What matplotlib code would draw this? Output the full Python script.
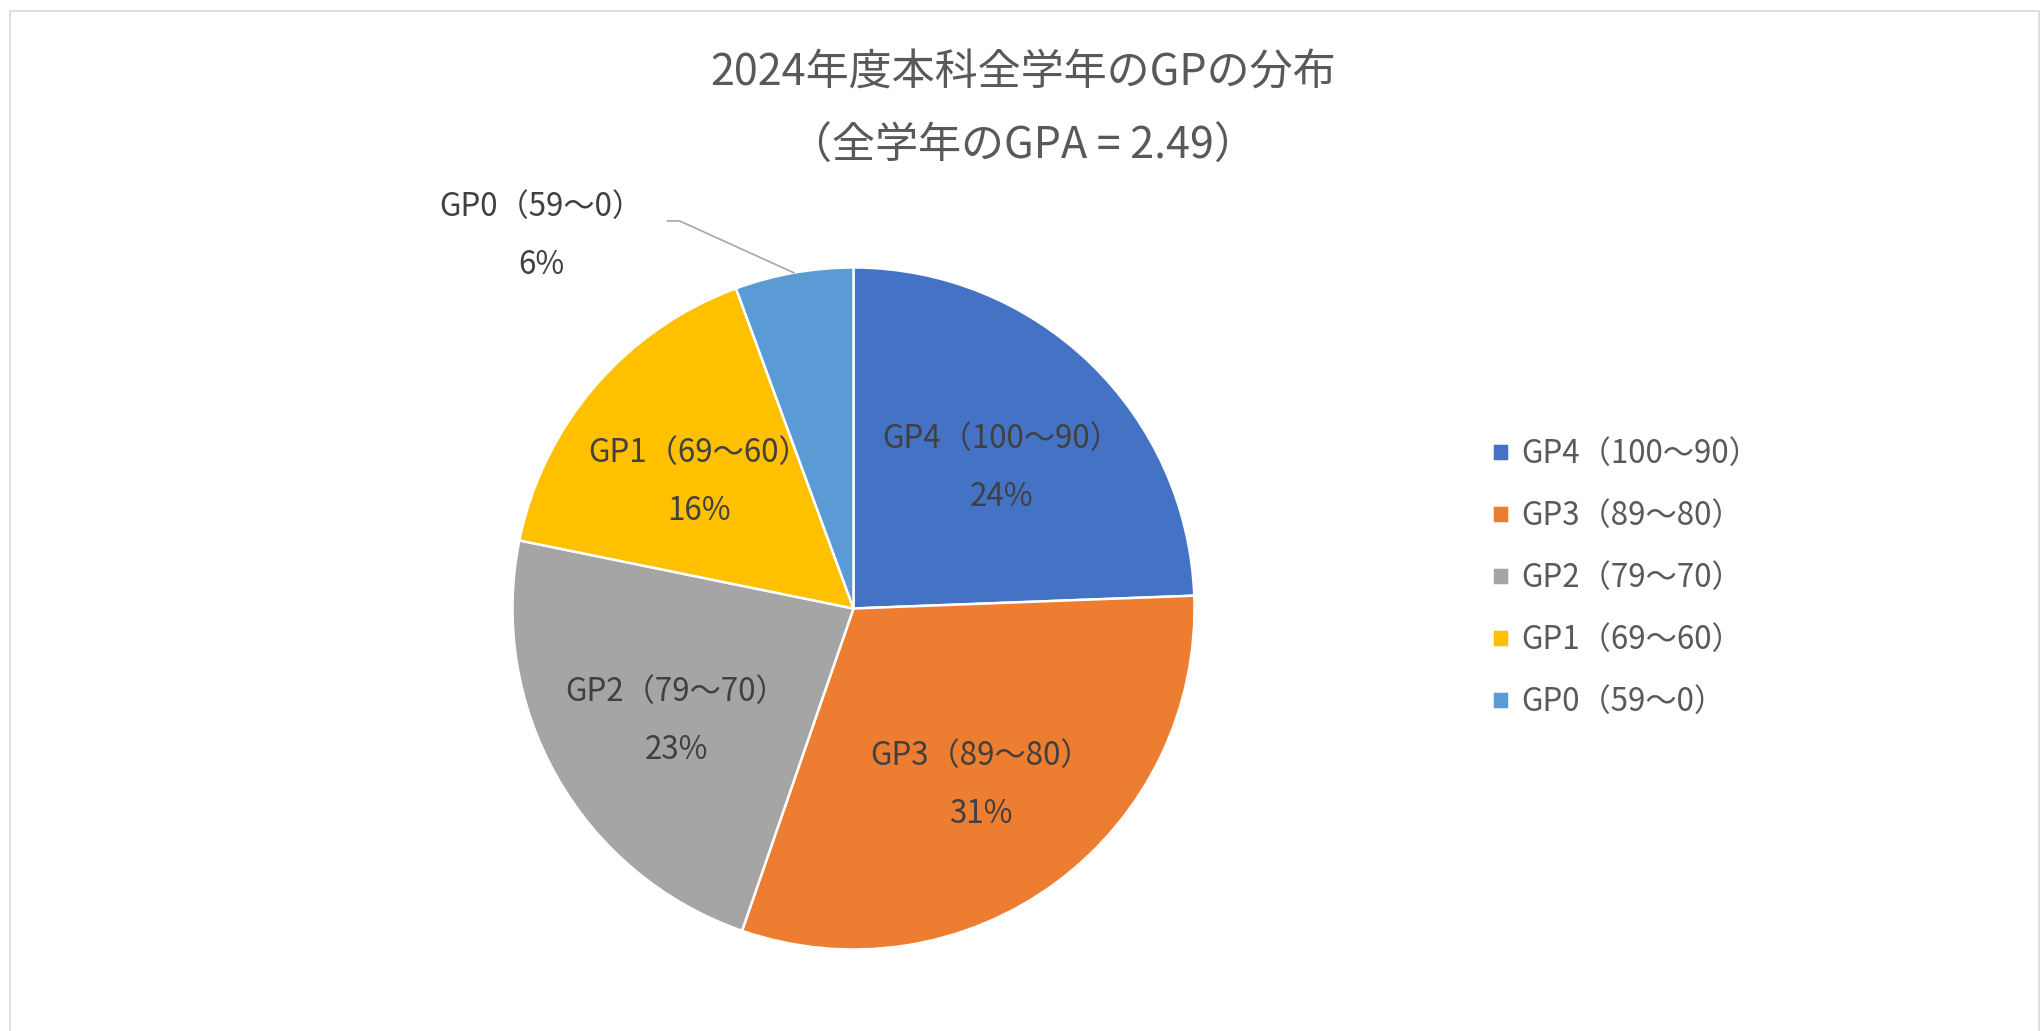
import matplotlib
matplotlib.use("Agg")
import matplotlib.pyplot as plt
import numpy as np
from matplotlib.patches import Rectangle

plt.rcParams['font.family'] = ['Noto Sans CJK JP', 'DejaVu Sans']

# ---- data ----
categories = ["GP4（100～90）", "GP3（89～80）", "GP2（79～70）", "GP1（69～60）", "GP0（59～0）"]
values = [24.4, 30.9, 22.9, 16.2, 5.6]
colors = ["#4472C4", "#ED7D31", "#A5A5A5", "#FFC000", "#5B9BD5"]
title_lines = ["2024年度本科全学年のGPの分布", "（全学年のGPA = 2.49）"]

W, H = 2043, 1031
fig = plt.figure(figsize=(W / 100, H / 100), dpi=100)
fig.patch.set_facecolor("white")

# outer chart border
fig.patches.append(Rectangle((9.5 / W, -0.01), (2039 - 9.5) / W, (H - 11) / H + 0.01,
                             transform=fig.transFigure, fill=False,
                             edgecolor="#D9D9D9", linewidth=1.2))

cx, cy, r = 853.5, 608.5, 341
ax = fig.add_axes([(cx - r) / W, (H - cy - r) / H, 2 * r / W, 2 * r / H])

wedges, _ = ax.pie(values, colors=colors, startangle=90, counterclock=False,
                   radius=1.0, wedgeprops=dict(edgecolor="white", linewidth=1.8))
ax.set_xlim(-1, 1)
ax.set_ylim(-1, 1)
ax.set_aspect("equal")
ax.axis("off")

total = sum(values)
label_fs = 22.5
lsp = 2.05
for i, (w, cat, v) in enumerate(zip(wedges, categories, values)):
    txt = f"{cat}\n{round(v / total * 100):.0f}%"
    mid = np.deg2rad((w.theta1 + w.theta2) / 2)
    if i < len(values) - 1:
        d = 0.61
        ax.text(d * np.cos(mid) + 0.01, d * np.sin(mid) - 0.027, txt, ha="center", va="center",
                fontsize=label_fs, color="#404040", linespacing=lsp)
    else:
        px, py = np.cos(mid), np.sin(mid)
        tx, ty = px - 0.74, py + 0.108
        ax.text(tx, ty, txt, ha="center", va="center",
                fontsize=label_fs, color="#404040", linespacing=lsp)
        ax.plot([px - 0.37, px - 0.335, px], [py + 0.152, py + 0.152, py],
                color="#A6A6A6", linewidth=1.2, clip_on=False)

fig.text(1023 / W, 1 - 74 / H, title_lines[0], ha="center", va="center",
         fontsize=31, color="#595959")
fig.text(1023 / W, 1 - 147 / H, title_lines[1], ha="center", va="center",
         fontsize=31, color="#595959")

leg = fig.legend(wedges, categories, loc="upper left",
                 bbox_to_anchor=(1492 / W, 1 - 438 / H), frameon=False,
                 fontsize=label_fs, labelcolor="#595959", handlelength=0.55,
                 handleheight=0.55, handletextpad=0.4, labelspacing=0.96,
                 borderaxespad=0, borderpad=0)

fig.savefig("out.png", dpi=100, facecolor="white")
